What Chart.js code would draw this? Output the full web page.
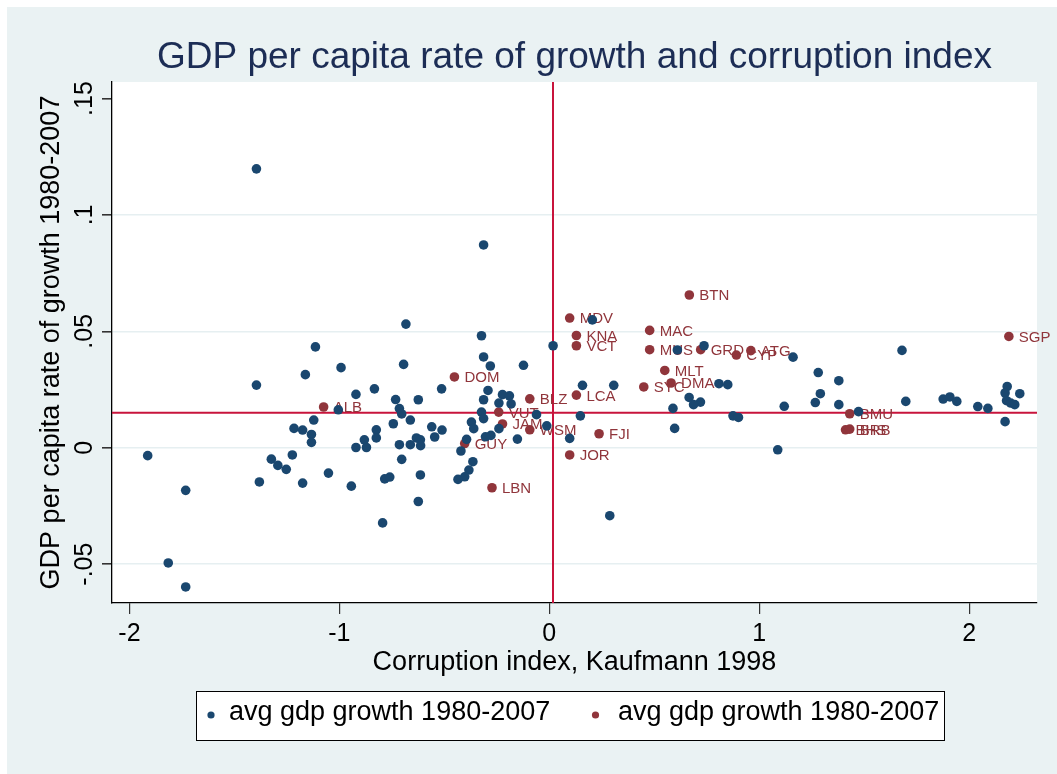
<!DOCTYPE html>
<html>
<head>
<meta charset="utf-8">
<script src="https://cdn.jsdelivr.net/npm/chart.js@4/dist/chart.umd.min.js"></script>
<style>
  html, body { margin: 0; padding: 0; background: #fff; }
  #wrap { position: absolute; left: 0; top: 0; width: 1057px; height: 774px; }
</style>
</head>
<body>
<div id="wrap"><canvas id="gdpChart" width="1057" height="774"></canvas></div>
<script>
// corruption index (x) and avg gdp growth (y), countries without labels
const corruptionAll = [
  -1.395, -1.114, -0.992, -1.162, -1.395, -1.005, -1.122, -1.216, -1.175, -1.133, -1.133, -1.913,
  -1.324, -1.224, -1.293, -1.253, -1.732, -1.381, -1.175, -1.052, -0.943, -1.815, -1.732,
  -0.313, -0.683, -0.323, 0.018, -0.694, -0.313, -0.281, -0.123, -0.921, -0.833, -0.513, -0.732,
  -0.624, -0.292, -0.313, -0.223, -0.190, -0.240, -0.182, -0.714, -0.703, -0.662, -0.323, -0.313,
  -0.061, -0.743, -0.371, -0.360, -0.560, -0.511, -0.546, -0.824, -0.824, -0.881, -0.871, -0.921,
  -0.714, -0.662, -0.633, -0.614, -0.613, -0.240, -0.012, -0.278, -0.304, -0.152, 0.097, -0.394,
  -0.421, -0.703, -0.364, -0.383, -0.403, -0.435, -0.784, -0.760, -0.614, -0.624, -0.794,
  0.205, 0.610, 0.737, 1.161, 1.281, 0.158, 0.307, 0.808, 0.850, 0.666, 0.720, 0.687, 0.589,
  1.119, 1.267, 1.291, 0.148, 0.597, 0.875, 0.901, 1.088, 0.288,
  1.680, 1.379, 1.379, 1.473, 1.698, 1.876, 1.908, 1.941, 2.041, 2.089, 2.181, 2.171, 2.241,
  2.178, 2.198, 2.217, 2.171
];
const growthAll = [
  0.1198, 0.0433, 0.0344, 0.0314, 0.0269, 0.0163, 0.0119, 0.0083, 0.0076, 0.0057, 0.0023, -0.0034,
  -0.0049, -0.0031, -0.0076, -0.0093, -0.0183, -0.0147, -0.0152, -0.0109, -0.0165, -0.0495, -0.0598,
  0.0871, 0.0531, 0.0481, 0.0438, 0.0358, 0.0390, 0.0351, 0.0354, 0.0229, 0.0253, 0.0253, 0.0207,
  0.0206, 0.0246, 0.0206, 0.0228, 0.0223, 0.0192, 0.0188, 0.0168, 0.0145, 0.0119, 0.0153, 0.0125,
  0.0142, 0.0103, 0.0110, 0.0082, 0.0090, 0.0076, 0.0046, 0.0077, 0.0042, 0.0034, 0.0001, 0.0001,
  0.0013, 0.0013, 0.0042, 0.0034, 0.0009, 0.0082, 0.0094, 0.0053, 0.0047, 0.0037, 0.0040, 0.0036,
  -0.0014, -0.0050, -0.0060, -0.0096, -0.0125, -0.0136, -0.0134, -0.0126, -0.0117, -0.0231, -0.0323,
  0.0549, 0.0420, 0.0438, 0.0389, 0.0323, 0.0268, 0.0268, 0.0275, 0.0271, 0.0216, 0.0196, 0.0185, 0.0169,
  0.0178, 0.0194, 0.0232, 0.0137, 0.0083, 0.0137, 0.0130, -0.0009, -0.0292,
  0.0418, 0.0288, 0.0185, 0.0155, 0.0199, 0.0209, 0.0218, 0.0199, 0.0177, 0.0169, 0.0263, 0.0235, 0.0232,
  0.0202, 0.0192, 0.0185, 0.0112
];

// small states, labelled
const smallCodes = ["ALB", "DOM", "BLZ", "VUT", "JAM", "WSM", "GUY", "LBN", "MDV", "KNA", "VCT", "LCA", "JOR", "FJI",
  "BTN", "MAC", "MUS", "GRD", "ATG", "CYP", "MLT", "SYC", "DMA", "BMU", "BHS", "BRB", "SGP"];
const corruptionSmall = [-1.075, -0.452, -0.093, -0.241, -0.223, -0.093, -0.403, -0.273, 0.097, 0.129, 0.129, 0.129, 0.097, 0.237,
  0.667, 0.478, 0.478, 0.721, 0.960, 0.891, 0.550, 0.450, 0.580, 1.431, 1.411, 1.431, 2.189];
const growthSmall = [0.0175, 0.0304, 0.0210, 0.0153, 0.0102, 0.0077, 0.0018, -0.0172, 0.0557, 0.0482, 0.0438, 0.0226, -0.0031, 0.0060,
  0.0656, 0.0504, 0.0421, 0.0421, 0.0417, 0.0398, 0.0332, 0.0261, 0.0278, 0.0146, 0.0077, 0.0080, 0.0478];

// reference lines (means)
const meanCorruption = 0.0176;
const meanGrowth = 0.0150;

const xTicks = [-2, -1, 0, 1, 2];
const xTickLabels = ["-2", "-1", "0", "1", "2"];
const yTicks = [-0.05, 0, 0.05, 0.1, 0.15];
const yTickLabels = ["-.05", "0", ".05", ".1", ".15"];

const BLUE = "#1a476f";
const RED = "#90353b";
const FONT = "'Liberation Sans', Arial, Helvetica, sans-serif";

const stataLook = {
  id: "stataLook",
  beforeDraw(chart) {
    const { ctx, chartArea: a } = chart;
    ctx.save();
    ctx.fillStyle = "#ffffff";
    ctx.fillRect(0, 0, chart.width, chart.height);
    ctx.fillStyle = "#eaf2f3";
    ctx.fillRect(7, 7, chart.width - 7, chart.height - 7);
    ctx.fillStyle = "#ffffff";
    ctx.fillRect(a.left, a.top, a.right - a.left, a.bottom - a.top);
    ctx.restore();
  },
  beforeDatasetsDraw(chart) {
    const { ctx, chartArea: a } = chart;
    const xs = chart.scales.x, ys = chart.scales.y;
    ctx.save();
    // mean lines
    ctx.strokeStyle = "#c8143c";
    ctx.lineWidth = 2;
    const px = xs.getPixelForValue(meanCorruption);
    const py = ys.getPixelForValue(meanGrowth);
    ctx.beginPath();
    ctx.moveTo(px, a.top);
    ctx.lineTo(px, a.bottom);
    ctx.moveTo(a.left, py);
    ctx.lineTo(a.right, py);
    ctx.stroke();
    // country labels
    ctx.fillStyle = RED;
    ctx.font = "15px " + FONT;
    ctx.textAlign = "left";
    ctx.textBaseline = "alphabetic";
    smallCodes.forEach((code, i) => {
      const x = xs.getPixelForValue(corruptionSmall[i]);
      const y = ys.getPixelForValue(growthSmall[i]);
      ctx.fillText(code, x + 10, y + 5.4);
    });
    ctx.restore();
  },
  afterDraw(chart) {
    const { ctx, chartArea: a } = chart;
    const ys = chart.scales.y;
    const cx = (a.left + a.right) / 2;
    const cy = (a.top + a.bottom) / 2;
    ctx.save();
    // title
    ctx.fillStyle = "#1c2d55";
    ctx.font = "37px " + FONT;
    ctx.textAlign = "center";
    ctx.textBaseline = "alphabetic";
    ctx.fillText("GDP per capita rate of growth and corruption index", cx, 68);
    // x title
    ctx.fillStyle = "#000";
    ctx.font = "27px " + FONT;
    ctx.fillText("Corruption index, Kaufmann 1998", cx, 670);
    // y title
    ctx.save();
    ctx.translate(58.5, cy);
    ctx.rotate(-Math.PI / 2);
    ctx.fillText("GDP per capita rate of growth 1980-2007", 0, 0);
    ctx.restore();
    // y tick labels, vertical
    ctx.font = "25px " + FONT;
    yTicks.forEach((v, i) => {
      ctx.save();
      ctx.translate(92, ys.getPixelForValue(v));
      ctx.rotate(-Math.PI / 2);
      ctx.fillText(yTickLabels[i], 0, 0);
      ctx.restore();
    });
    // legend
    ctx.fillStyle = "#fff";
    ctx.fillRect(196.5, 691.5, 748, 49);
    ctx.strokeStyle = "#000";
    ctx.lineWidth = 1;
    ctx.strokeRect(196.5, 691.5, 748, 49);
    const items = [
      { color: BLUE, dot: 211, text: 229, label: chart.data.datasets[0].label },
      { color: RED, dot: 595.5, text: 618, label: chart.data.datasets[1].label }
    ];
    ctx.font = "27px " + FONT;
    ctx.textAlign = "left";
    items.forEach(it => {
      ctx.fillStyle = it.color;
      ctx.beginPath();
      ctx.arc(it.dot, 715, 3.6, 0, Math.PI * 2);
      ctx.fill();
      ctx.fillStyle = "#000";
      ctx.fillText(it.label, it.text, 720);
    });
    ctx.restore();
  }
};

new Chart(document.getElementById("gdpChart").getContext("2d"), {
  type: "scatter",
  data: {
    datasets: [
      {
        label: "avg gdp growth 1980-2007",
        data: corruptionAll.map((x, i) => ({ x: x, y: growthAll[i] })),
        backgroundColor: BLUE,
        borderWidth: 0,
        pointRadius: 4.8,
        pointHoverRadius: 4.8
      },
      {
        label: "avg gdp growth 1980-2007",
        data: corruptionSmall.map((x, i) => ({ x: x, y: growthSmall[i] })),
        backgroundColor: RED,
        borderWidth: 0,
        pointRadius: 4.8,
        pointHoverRadius: 4.8
      }
    ]
  },
  options: {
    responsive: false,
    animation: false,
    events: [],
    layout: { autoPadding: false, padding: { left: 0, right: 20, top: 82, bottom: 0 } },
    plugins: {
      legend: { display: false },
      title: { display: false },
      tooltip: { enabled: false }
    },
    scales: {
      x: {
        type: "linear",
        min: -2.083,
        max: 2.323,
        afterFit: s => { s.height = 171; },
        afterBuildTicks: s => { s.ticks = xTicks.map(v => ({ value: v })); },
        ticks: {
          color: "#000",
          font: { family: FONT, size: 25 },
          padding: 5,
          maxRotation: 0,
          callback: (v) => xTickLabels[xTicks.indexOf(v)]
        },
        grid: { drawOnChartArea: false, drawTicks: true, tickLength: 11, tickColor: "#333", lineWidth: 1.2 },
        border: { display: true, color: "#000", width: 1.3 }
      },
      y: {
        type: "linear",
        min: -0.0667,
        max: 0.1571,
        afterFit: s => { s.width = 112; },
        afterBuildTicks: s => { s.ticks = yTicks.map(v => ({ value: v })); },
        ticks: { display: false },
        grid: {
          color: c => (c.tick && c.tick.value === 0.15 ? "rgba(0,0,0,0)" : "#e6eff1"),
          lineWidth: 1.6,
          tickLength: 10,
          tickColor: "#333"
        },
        border: { display: true, color: "#000", width: 1.3 }
      }
    }
  },
  plugins: [stataLook]
});
</script>
</body>
</html>
